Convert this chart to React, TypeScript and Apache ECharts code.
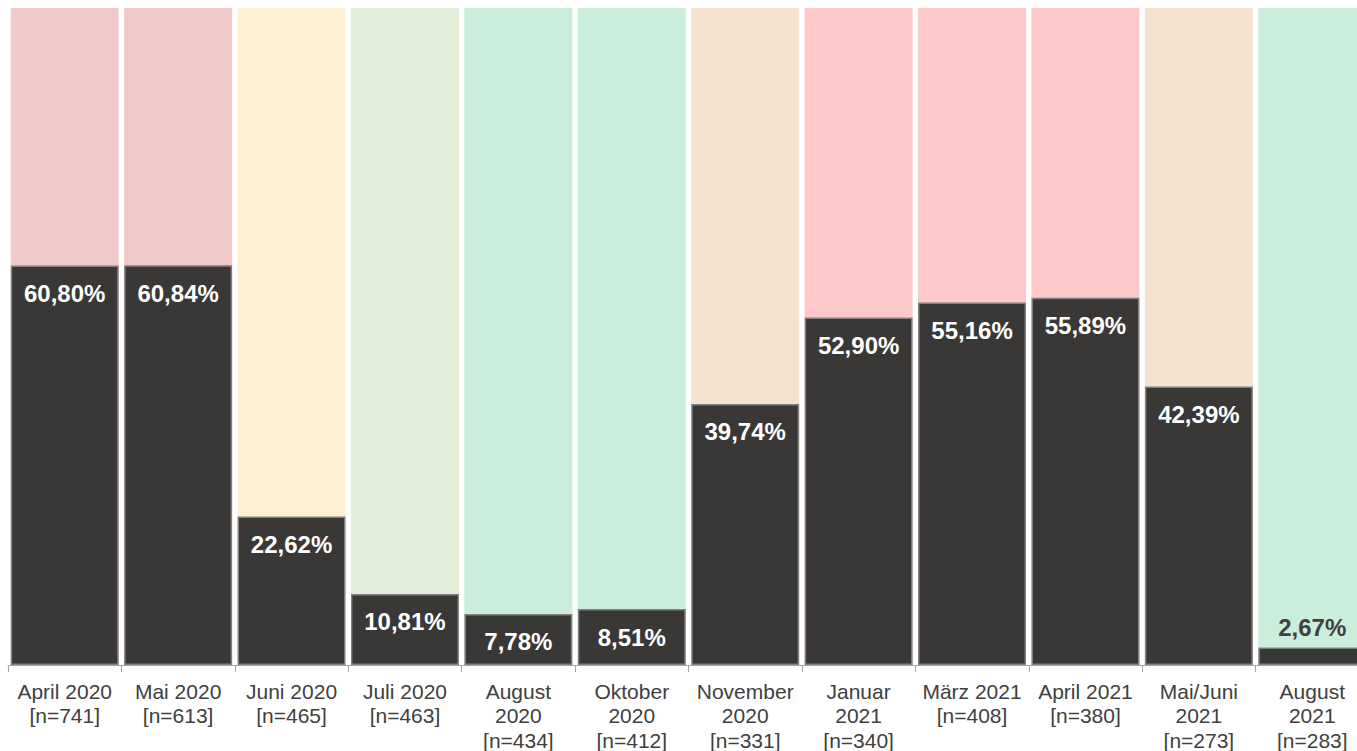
import React, { useEffect, useRef } from "react";
import * as echarts from "echarts";

const categories = [
  "April 2020\n[n=741]",
  "Mai 2020\n[n=613]",
  "Juni 2020\n[n=465]",
  "Juli 2020\n[n=463]",
  "August\n2020\n[n=434]",
  "Oktober\n2020\n[n=412]",
  "November\n2020\n[n=331]",
  "Januar\n2021\n[n=340]",
  "März 2021\n[n=408]",
  "April 2021\n[n=380]",
  "Mai/Juni\n2021\n[n=273]",
  "August\n2021\n[n=283]",
];
const values = [60.8, 60.84, 22.62, 10.81, 7.78, 8.51, 39.74, 52.9, 55.16, 55.89, 42.39, 2.67];
const bgColors = [
  "#f0c9c9", "#f0c9c9", "#fff0d1", "#e1ecd9", "#cbeedc", "#cbeedc",
  "#f5e2cf", "#ffc9c9", "#ffc9c9", "#ffc9c9", "#f5e2cf", "#cbeedc",
];
const insideMin = 5;

export default function App() {
  const ref = useRef<HTMLDivElement>(null);
  useEffect(() => {
    if (!ref.current) return;
    const chart = echarts.init(ref.current, null, { renderer: "svg" });
    const fmt = (v: number) => v.toFixed(2).replace(".", ",") + "%";
    chart.setOption({
      animation: false,
      grid: { left: 8, top: 8, bottom: 86, right: -12, outerBoundsMode: "none", containLabel: false },
      xAxis: {
        type: "category",
        data: categories,
        axisLine: { lineStyle: { color: "#a6a6a6", width: 1 } },
        axisTick: { show: true, length: 7, lineStyle: { color: "#a6a6a6" } },
        axisLabel: {
          interval: 0,
          color: "#404040",
          fontSize: 21,
          lineHeight: 24.5,
          margin: 14,
          fontFamily: "Liberation Sans, Arial, sans-serif",
        },
      },
      yAxis: { type: "value", min: 0, max: 100, show: false, splitLine: { show: false } },
      series: [
        {
          type: "bar",
          barCategoryGap: "4.8%",
          barGap: "-100%",
          silent: true,
          data: bgColors.map((c) => ({ value: 100, itemStyle: { color: c } })),
        },
        {
          type: "bar",
          barCategoryGap: "4.8%",
          barGap: "-100%",
          data: values.map((v) => ({
            value: v,
            label:
              v < insideMin
                ? { position: "top", color: "#404040", distance: 8 }
                : {},
          })),
          itemStyle: { color: "#3a3836", borderColor: "#808080", borderWidth: 1.5 },
          label: {
            show: true,
            position: "insideTop",
            distance: 16,
            color: "#ffffff",
            fontSize: 24,
            fontWeight: "bold",
            fontFamily: "Liberation Sans, Arial, sans-serif",
            formatter: (p: any) => fmt(p.value),
          },
        },
      ],
    });
    return () => chart.dispose();
  }, []);
  return (
    <div
      ref={ref}
      style={{ position: "absolute", left: 0, top: 0, width: 1357, height: 751 }}
    />
  );
}
